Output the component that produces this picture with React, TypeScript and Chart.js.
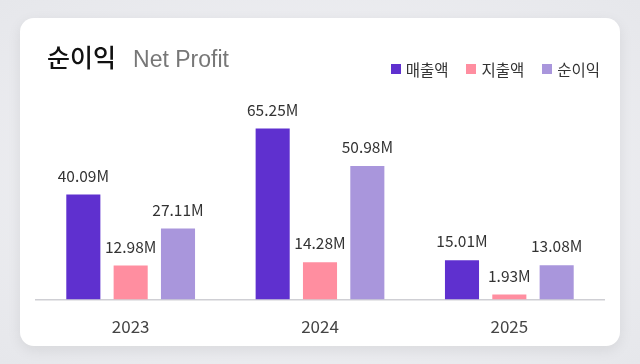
import React, { useEffect, useRef } from "react";
import { Chart, registerables } from "chart.js";

Chart.register(...registerables);

const categories = ["2023", "2024", "2025"];
const revenue = [40.09, 65.25, 15.01];
const expense = [12.98, 14.28, 1.93];
const netProfit = [27.11, 50.98, 13.08];
const seriesNames = ["매출액", "지출액", "순이익"];
const seriesColors = ["#5f30cf", "#ff8ea0", "#a996dc"];

const FONT = "'Noto Sans CJK KR', 'Noto Sans', sans-serif";

const valueLabels = {
  id: "valueLabels",
  afterDatasetsDraw(chart: any) {
    const ctx = chart.ctx;
    ctx.save();
    ctx.font = `15.5px ${FONT}`;
    ctx.fillStyle = "#333";
    ctx.textAlign = "center";
    ctx.textBaseline = "bottom";
    chart.data.datasets.forEach((ds: any, i: number) => {
      const meta = chart.getDatasetMeta(i);
      meta.data.forEach((bar: any, j: number) => {
        ctx.fillText(ds.data[j].toFixed(2) + "M", bar.x, bar.y - 11);
      });
    });
    ctx.restore();
  },
};

export default function App() {
  const ref = useRef<HTMLCanvasElement>(null);
  useEffect(() => {
    const chart = new Chart(ref.current!, {
      type: "bar",
      data: {
        labels: categories,
        datasets: [
          { label: seriesNames[0], data: revenue, backgroundColor: seriesColors[0] },
          { label: seriesNames[1], data: expense, backgroundColor: seriesColors[1] },
          { label: seriesNames[2], data: netProfit, backgroundColor: seriesColors[2] },
        ],
      },
      options: {
        animation: false,
        responsive: false,
        maintainAspectRatio: false,
        layout: { padding: { left: 16, right: 16, top: 70, bottom: 0 } },
        datasets: { bar: { categoryPercentage: 0.75, barPercentage: 0.72 } } as any,
        plugins: {
          legend: { display: false },
          tooltip: { enabled: false },
        },
        scales: {
          x: {
            grid: { display: false },
            border: { display: true, color: "#cfcfd4", width: 1.5 },
            ticks: { color: "#444", font: { size: 17, family: FONT }, padding: 9 },
          },
          y: { display: false, min: 0, max: 81.5 },
        },
      },
      plugins: [valueLabels],
    });
    return () => chart.destroy();
  }, []);

  return (
    <div
      style={{
        position: "fixed",
        inset: 0,
        background: "radial-gradient(ellipse at center, #f4f4f7 0%, #e6e7eb 100%)",
      }}
    >
      <div
        style={{
          position: "absolute",
          left: 20,
          top: 18,
          width: 600,
          height: 328,
          background: "#fff",
          borderRadius: 14,
          boxShadow: "0 4px 14px rgba(0,0,0,0.08)",
          overflow: "hidden",
        }}
      >
        <canvas ref={ref} width={600} height={330} style={{ position: "absolute", left: 0, top: -2 }} />
        <div
          style={{
            position: "absolute",
            left: 27,
            top: 20,
            fontFamily: FONT,
            whiteSpace: "nowrap",
          }}
        >
          <span style={{ fontSize: 25, fontWeight: 500, color: "#111" }}>순이익</span>
          <span style={{ fontSize: 23, color: "#777", marginLeft: 17, fontFamily: "'Liberation Sans', Arial, sans-serif" }}>Net Profit</span>
        </div>
        <div
          style={{
            position: "absolute",
            right: 20,
            top: 40,
            display: "flex",
            alignItems: "center",
            fontFamily: FONT,
            fontSize: 15.5,
            color: "#333",
            whiteSpace: "nowrap",
          }}
        >
          {seriesNames.map((name, i) => (
            <div key={name} style={{ display: "flex", alignItems: "center", marginLeft: i === 0 ? 0 : 18 }}>
              <span style={{ display: "inline-block", width: 10, height: 10, background: seriesColors[i], marginRight: 5 }} />
              <span>{name}</span>
            </div>
          ))}
        </div>
      </div>
    </div>
  );
}
